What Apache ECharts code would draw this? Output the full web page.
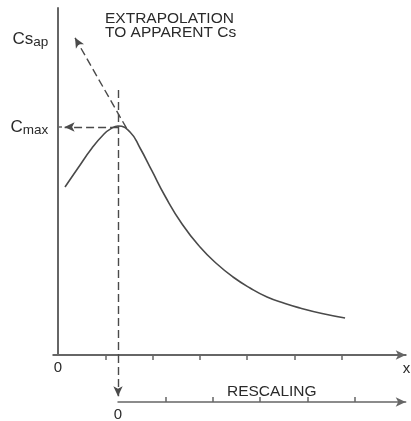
<!DOCTYPE html>
<html><head><meta charset="utf-8">
<script src="https://cdn.jsdelivr.net/npm/echarts@6/dist/echarts.min.js"></script>
<style>html,body{margin:0;padding:0;background:#fff}#c{width:411px;height:421px}</style>
</head><body><div id="c"></div>
<script>
// Curve (concentration profile), in axis units
const curveX = [0.148, 0.423, 0.719, 0.973, 1.120, 1.268, 1.522, 1.734, 1.987, 2.262, 2.622, 3.002, 3.362, 3.700, 4.059, 4.419, 4.799, 5.116, 5.581, 6.068];
const curveY = [48.41, 53.89, 59.65, 63.69, 65.24, 65.99, 64.27, 59.65, 53.03, 45.82, 37.75, 31.12, 26.22, 22.48, 19.31, 16.71, 14.84, 13.54, 11.96, 10.66];
// Extrapolation (tangent) line: arrow end first
const tangentX = [0.36, 1.48];
const tangentY = [91.4, 64.6];
// Key values
const peakX = 1.27;
const cmaxValue = 65.7;
const csapValue = 91.1;
const verticalTop = 76.4;
const cmaxArrowX = 0.14;
// Tick positions
const xTicks = [1, 2, 3, 4, 5, 6];
const xLabels = [0];
const rescaleTicks = [1, 2, 3, 4, 5];
const rescaleLabels = [0];
const yLabelValues = [cmaxValue, csapValue];
const yTickValues = [cmaxValue];
// Texts
const topNote = 'EXTRAPOLATION\nTO APPARENT Cs';
const rescaleNote = 'RESCALING';

const AX = '#666', LN = '#4a4a4a', TX = '#2a2a2a';
const FONT = '"Liberation Sans", Arial, sans-serif';

const chart = echarts.init(document.getElementById('c'), null, {renderer: 'canvas'});
chart.setOption({
  animation: false,
  backgroundColor: '#fff',
  title: [
    {text: topNote, left: 100, top: 7, textStyle: {fontSize: 15.5, lineHeight: 14, fontWeight: 'normal', color: TX, fontFamily: FONT}},
    {text: rescaleNote, left: 222, top: 379, textStyle: {fontSize: 15.5, fontWeight: 'normal', color: TX, fontFamily: FONT}}
  ],
  grid: [
    {left: 53.27, right: 5.3, top: 8, bottom: 66, containLabel: false, outerBoundsMode: 'none'},
    {left: 118, right: 5.3, top: 355, bottom: 19, containLabel: false, outerBoundsMode: 'none'}
  ],
  xAxis: [
    {gridIndex: 0, type: 'value', min: -0.1, max: 7.35,
     name: 'x', nameLocation: 'end', nameGap: -3,
     nameTextStyle: {fontSize: 15, color: TX, fontFamily: FONT, verticalAlign: 'top', padding: [6, 0, 0, 0]},
     axisLine: {show: true, onZero: true, symbol: ['none', 'arrow'], symbolSize: [7, 10], lineStyle: {color: AX, width: 2}},
     axisTick: {show: true, customValues: xTicks, length: 5, lineStyle: {color: AX, width: 1.5}},
     axisLabel: {show: true, customValues: xLabels, margin: 5, fontSize: 15, color: TX, fontFamily: FONT},
     splitLine: {show: false}},
    {gridIndex: 1, type: 'value', min: 0, max: 6.08,
     axisLine: {show: true, symbol: ['none', 'arrow'], symbolSize: [7, 10], lineStyle: {color: AX, width: 1.5}},
     axisTick: {show: true, inside: true, customValues: rescaleTicks, length: 5, lineStyle: {color: AX, width: 1.5}},
     axisLabel: {show: true, customValues: rescaleLabels, margin: 5, fontSize: 15, color: TX, fontFamily: FONT},
     splitLine: {show: false}}
  ],
  yAxis: [
    {gridIndex: 0, type: 'value', min: 0, max: 100,
     axisLine: {show: true, onZero: true, lineStyle: {color: AX, width: 2}},
     axisTick: {show: true, inside: true, customValues: yTickValues, length: 4, lineStyle: {color: AX, width: 1.5}},
     axisLabel: {show: true, customValues: yLabelValues, margin: 5, color: TX, fontFamily: FONT,
       formatter: function (v) {
         return Math.abs(v - cmaxValue) < 1 ? '{c|C}{s|max}' : '{c|Cs}{s|ap}';
       },
       rich: {
         c: {fontSize: 17, color: TX, fontFamily: FONT},
         s: {fontSize: 13.5, color: TX, fontFamily: FONT, padding: [7, 0, 0, 0]}
       }},
     splitLine: {show: false}},
    {gridIndex: 1, type: 'value', min: 0, max: 1, show: false}
  ],
  series: [
    {type: 'line', xAxisIndex: 0, yAxisIndex: 0, smooth: 0.5, symbol: 'none', silent: true,
     lineStyle: {color: LN, width: 1.6},
     data: curveX.map((x, i) => [x, curveY[i]]),
     markLine: {
       silent: true, animation: false, label: {show: false}, emphasis: {disabled: true},
       symbolSize: [7, 10],
       lineStyle: {color: LN, width: 1.4, type: [8, 4]},
       data: [
         [{coord: [tangentX[0], tangentY[0]], symbol: 'arrow'}, {coord: [tangentX[1], tangentY[1]], symbol: 'none'}],
         [{coord: [peakX, cmaxValue], symbol: 'none'}, {coord: [cmaxArrowX, cmaxValue], symbol: 'arrow'}],
         [{coord: [peakX, verticalTop], symbol: 'none'}, {coord: [peakX, 0], symbol: 'none'}]
       ]
     }},
    {type: 'line', xAxisIndex: 1, yAxisIndex: 1, symbol: 'none', silent: true,
     lineStyle: {opacity: 0}, data: [[0, 0]],
     markLine: {
       silent: true, animation: false, label: {show: false}, emphasis: {disabled: true},
       symbolSize: [7, 10],
       lineStyle: {color: LN, width: 1.4, type: [8, 4]},
       data: [
         [{coord: [0, 1], symbol: 'none'}, {coord: [0, 0.12], symbol: 'arrow'}]
       ]
     }}
  ]
});
</script>
</body></html>
